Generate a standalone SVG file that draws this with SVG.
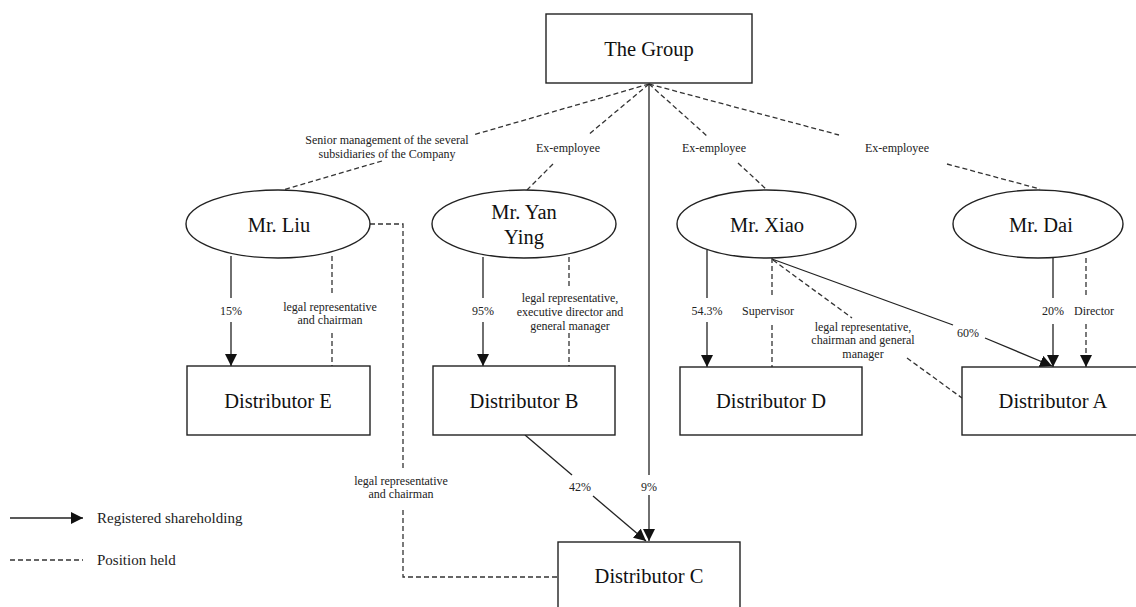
<svg xmlns="http://www.w3.org/2000/svg" width="1136" height="607" viewBox="0 0 1136 607" font-family="'Liberation Serif', 'Times New Roman', 'DejaVu Serif', serif">
<style>
.box{fill:#fff;stroke:#222;stroke-width:1.4}
.big{font-size:20.5px;fill:#111;text-anchor:middle}
.lbl{font-size:12px;fill:#222;text-anchor:middle}
.leg{font-size:15px;fill:#222}
.sol{fill:none;stroke:#222;stroke-width:1.3}
.dash{fill:none;stroke:#333;stroke-width:1.3;stroke-dasharray:5,3}
</style>
<defs>
<marker id="ah" markerUnits="userSpaceOnUse" markerWidth="12" markerHeight="12" viewBox="0 0 12 12" refX="12" refY="6" orient="auto">
<path d="M0,0 L12,6 L0,12 Z" fill="#111"/>
</marker>
</defs>
<rect width="1136" height="607" fill="#fff"/>
<g id="connectors">
<path class="dash" d="M649,84 L473,135 M382,161 L283,190"/>
<path class="dash" d="M649,84 L588,135 M553,164 L527,190"/>
<path class="dash" d="M649,84 L707,136 M738,163 L766,189"/>
<path class="dash" d="M649,84 L839,135 M947,164 L1040,189"/>
<path class="sol" d="M649,84 L649,475"/>
<path class="sol" d="M649,495 L649,541" marker-end="url(#ah)"/>
<path class="sol" d="M525,435 L572,475"/>
<path class="sol" d="M593,496 L646,541" marker-end="url(#ah)"/>
<path class="sol" d="M231,256 L231,298"/>
<path class="sol" d="M231,322 L231,366" marker-end="url(#ah)"/>
<path class="dash" d="M332,256 L332,295 M332,333 L332,366"/>
<path class="dash" d="M370,224 L403,224 L403,468 M403,510 L403,577 L558,577"/>
<path class="sol" d="M483,257 L483,298"/>
<path class="sol" d="M483,322 L483,366" marker-end="url(#ah)"/>
<path class="dash" d="M569,257 L569,288 M569,333 L569,366"/>
<path class="sol" d="M707,250 L707,298"/>
<path class="sol" d="M707,322 L707,367" marker-end="url(#ah)"/>
<path class="dash" d="M772,258 L772,297 M772,325 L772,367"/>
<path class="sol" d="M772,259 L953,325"/>
<path class="sol" d="M985,338 L1052,366" marker-end="url(#ah)"/>
<path class="dash" d="M773,260 L852,318 M907,358 L962,398"/>
<path class="sol" d="M1053,258 L1053,298"/>
<path class="sol" d="M1053,324 L1053,367" marker-end="url(#ah)"/>
<path class="dash" d="M1086,258 L1086,298 M1086,324 L1086,355"/>
<path class="sol" d="M1086,355 L1086,367" marker-end="url(#ah)"/>
</g>
<g id="labels">
<text class="lbl" x="387" y="144">Senior management of the several</text>
<text class="lbl" x="387" y="158">subsidiaries of the Company</text>
<text class="lbl" x="568" y="152">Ex-employee</text>
<text class="lbl" x="714" y="152">Ex-employee</text>
<text class="lbl" x="897" y="152">Ex-employee</text>
<text class="lbl" x="231" y="315">15%</text>
<text class="lbl" x="330" y="311">legal representative</text>
<text class="lbl" x="330" y="324">and chairman</text>
<text class="lbl" x="483" y="315">95%</text>
<text class="lbl" x="570" y="302">legal representative,</text>
<text class="lbl" x="570" y="316">executive director and</text>
<text class="lbl" x="570" y="330">general manager</text>
<text class="lbl" x="707" y="315">54.3%</text>
<text class="lbl" x="768" y="315">Supervisor</text>
<text class="lbl" x="863" y="331">legal representative,</text>
<text class="lbl" x="863" y="344">chairman and general</text>
<text class="lbl" x="863" y="358">manager</text>
<text class="lbl" x="968" y="337">60%</text>
<text class="lbl" x="1053" y="315">20%</text>
<text class="lbl" x="1094" y="315">Director</text>
<text class="lbl" x="401" y="485">legal representative</text>
<text class="lbl" x="401" y="498">and chairman</text>
<text class="lbl" x="580" y="491">42%</text>
<text class="lbl" x="649" y="491">9%</text>
</g>
<g id="group"><rect class="box" x="546" y="14" width="206" height="69"/><text class="big" x="649" y="56">The Group</text></g>
<g id="liu"><ellipse class="box" cx="278" cy="224" rx="92" ry="34"/><text class="big" x="279" y="232">Mr. Liu</text></g>
<g id="yanying"><ellipse class="box" cx="524" cy="224" rx="92" ry="34"/><text class="big" x="524" y="219">Mr. Yan</text><text class="big" x="524" y="244">Ying</text></g>
<g id="xiao"><ellipse class="box" cx="766.5" cy="224" rx="89.5" ry="34"/><text class="big" x="767" y="232">Mr. Xiao</text></g>
<g id="dai"><ellipse class="box" cx="1038" cy="224" rx="85" ry="34"/><text class="big" x="1041" y="232">Mr. Dai</text></g>
<g id="distE"><rect class="box" x="187" y="366" width="183" height="69"/><text class="big" x="278" y="408">Distributor E</text></g>
<g id="distB"><rect class="box" x="433" y="366" width="182" height="69"/><text class="big" x="524" y="408">Distributor B</text></g>
<g id="distD"><rect class="box" x="680" y="367" width="182" height="68"/><text class="big" x="771" y="408">Distributor D</text></g>
<g id="distA"><rect class="box" x="962" y="367" width="183" height="68"/><text class="big" x="1053" y="408">Distributor A</text></g>
<g id="distC"><rect class="box" x="558" y="542" width="182" height="80"/><text class="big" x="649" y="583">Distributor C</text></g>
<g id="legend">
<path class="sol" d="M10,518 L83,518" marker-end="url(#ah)"/>
<text class="leg" x="97" y="523">Registered shareholding</text>
<path class="dash" d="M10,560 L83,560"/>
<text class="leg" x="97" y="565">Position held</text>
</g>
</svg>
